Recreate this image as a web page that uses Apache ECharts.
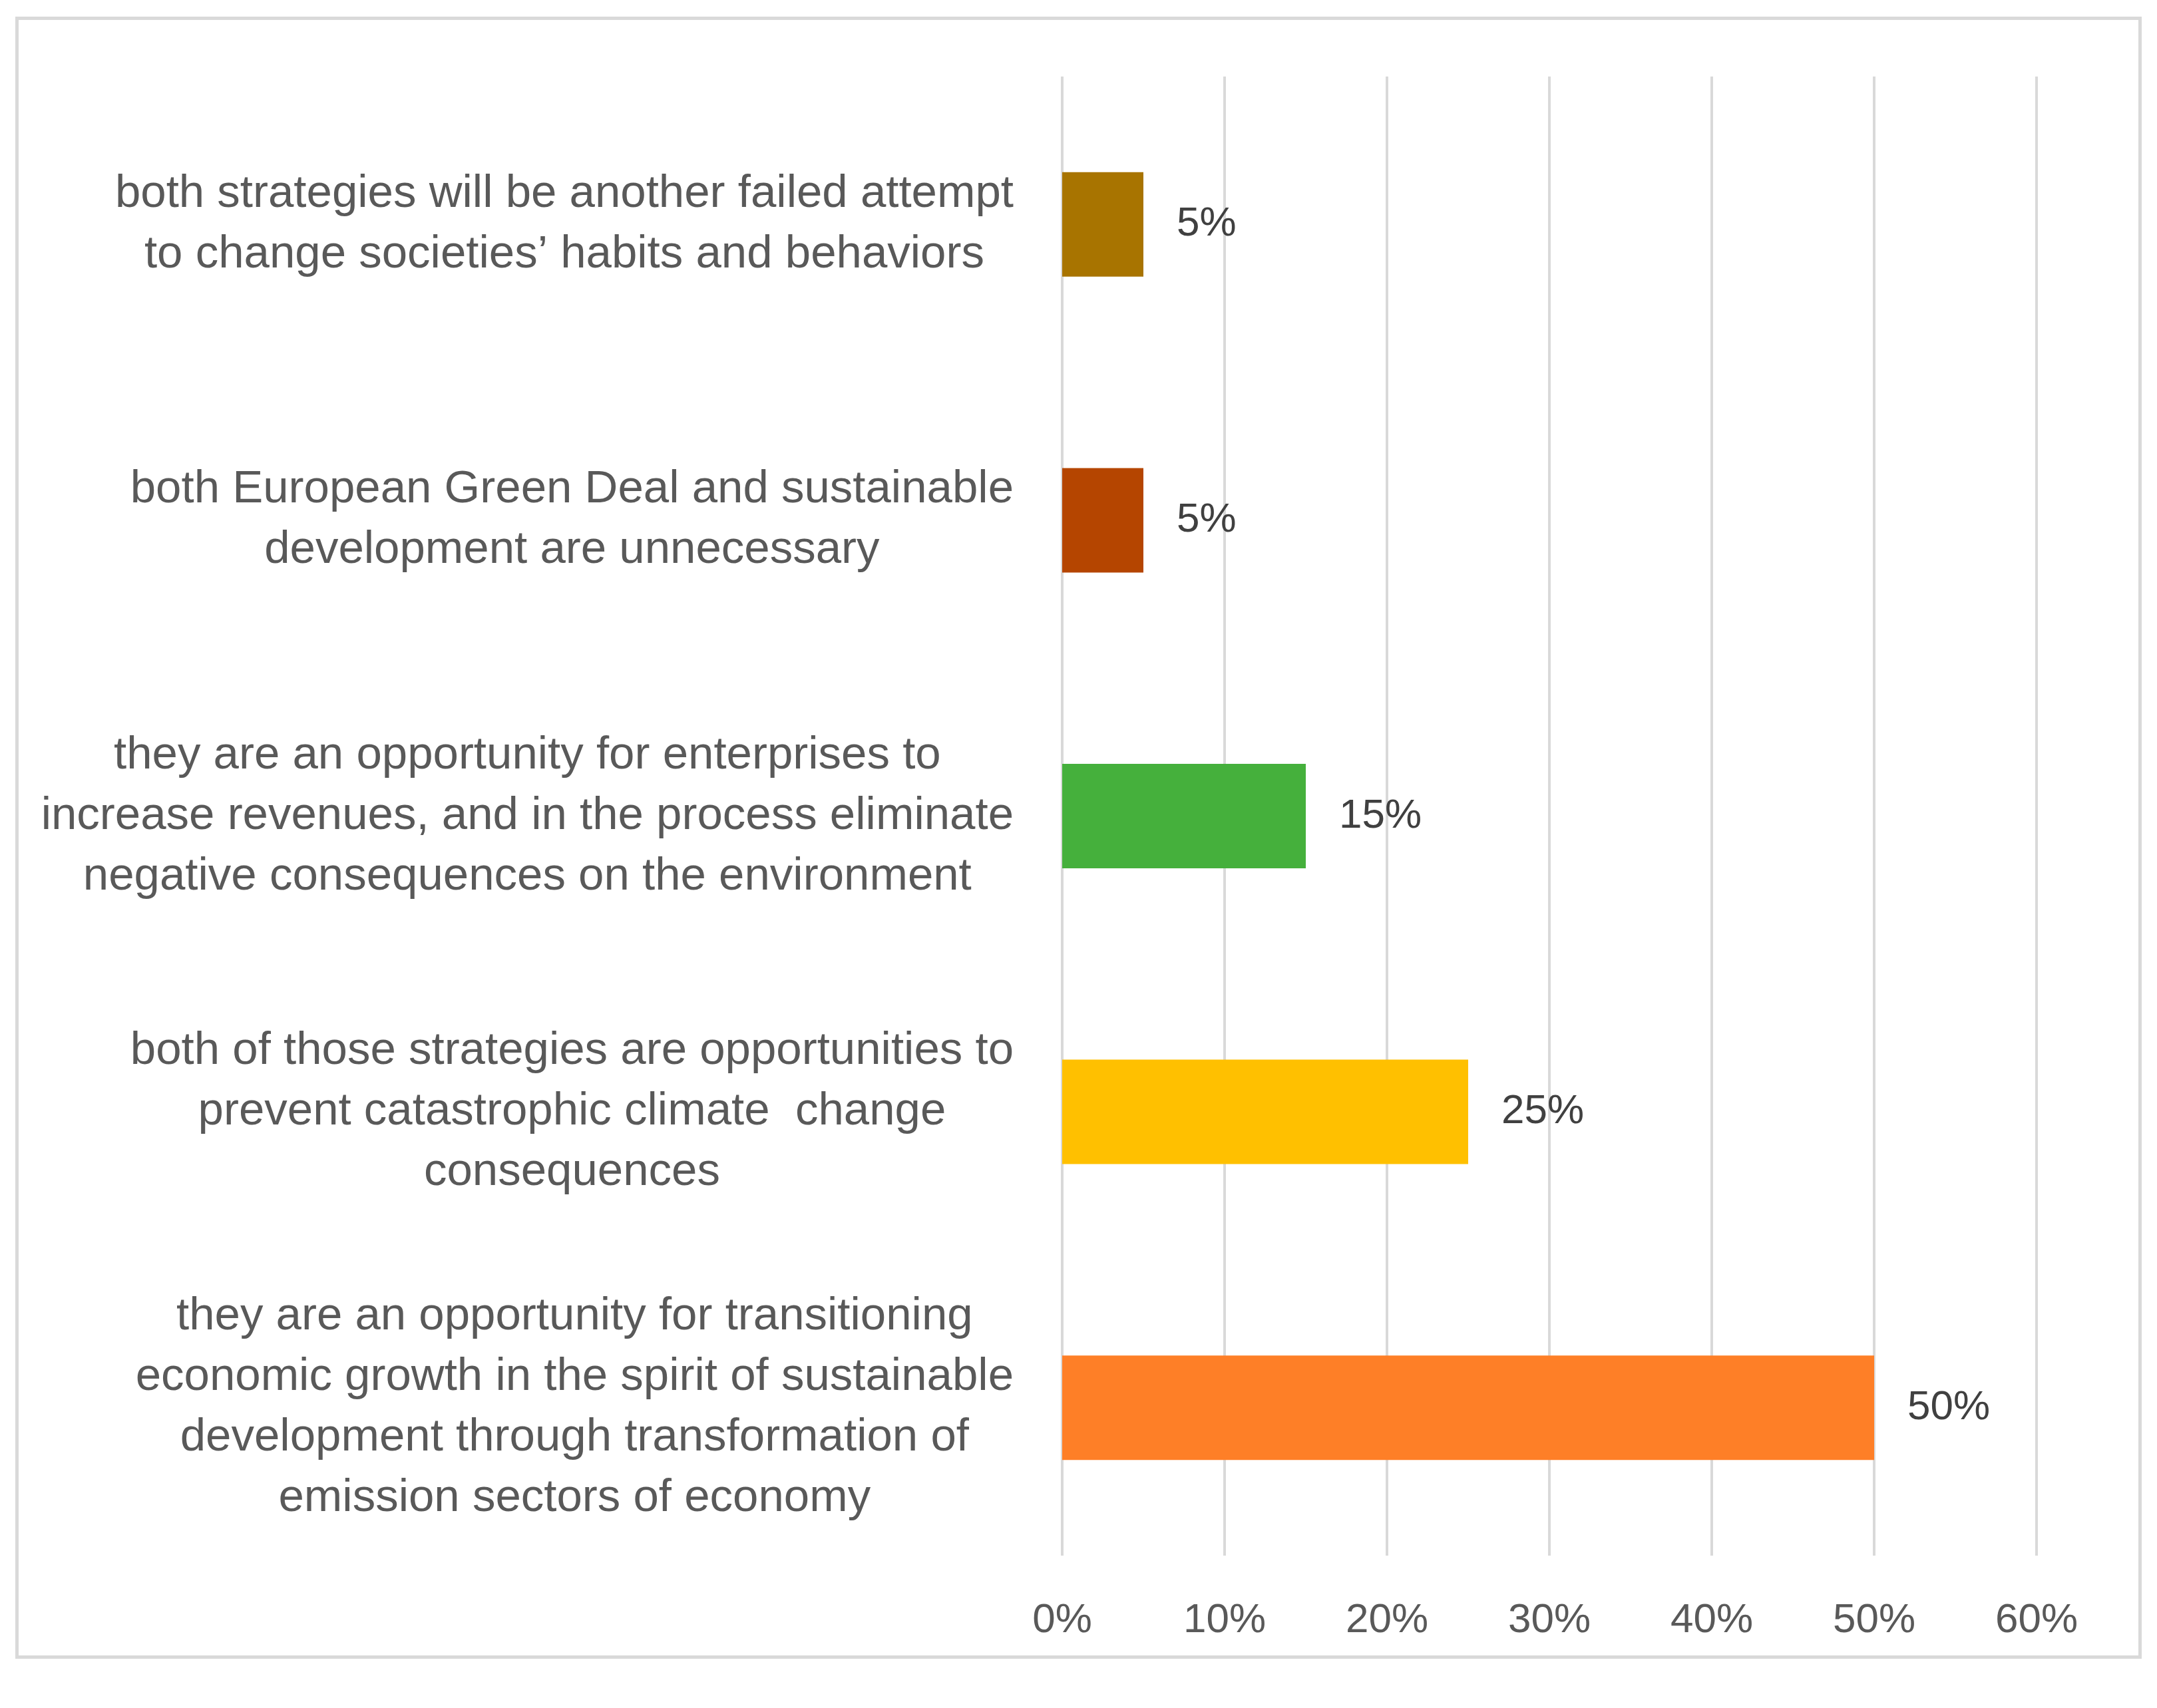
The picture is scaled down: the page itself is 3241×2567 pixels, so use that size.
<!DOCTYPE html>
<html>
<head>
<meta charset="utf-8">
<script src="https://cdn.jsdelivr.net/npm/echarts@6/dist/echarts.min.js"></script>
<style>
html,body{margin:0;padding:0;background:#fff;}
#chart{width:3241px;height:2567px;}
</style>
</head>
<body>
<div id="chart"></div>
<script>
var categories = [
  "both strategies will be another failed attempt\nto change societies\u2019 habits and behaviors",
  "both European Green Deal and sustainable\ndevelopment are unnecessary",
  "they are an opportunity for enterprises to\nincrease revenues, and in the process eliminate\nnegative consequences on the environment",
  "both of those strategies are opportunities to\nprevent catastrophic climate  change\nconsequences",
  "they are an opportunity for transitioning\neconomic growth in the spirit of sustainable\ndevelopment through transformation of\nemission sectors of economy"
];
var values = [5, 5, 15, 25, 50];
var barColors = ["#A87400", "#B54500", "#45B03C", "#FFC000", "#FE7F27"];
var xTicks = [0, 10, 20, 30, 40, 50, 60];

var FONT = "'Liberation Sans', Arial, sans-serif";
var chart = echarts.init(document.getElementById('chart'), null, {renderer: 'canvas', devicePixelRatio: 1});

var option = {
  animation: false,
  backgroundColor: '#ffffff',
  graphic: [{
    type: 'rect',
    shape: {x: 25.5, y: 27.5, width: 3190, height: 2463},
    style: {fill: 'none', stroke: '#d9d9d9', lineWidth: 5},
    silent: true,
    z: -1
  }],
  grid: {left: 1596, top: 115, width: 1464, height: 2223, containLabel: false},
  xAxis: {
    type: 'value',
    min: xTicks[0],
    max: xTicks[xTicks.length - 1],
    interval: xTicks[1] - xTicks[0],
    axisLine: {show: false},
    axisTick: {show: false},
    splitLine: {show: true, lineStyle: {color: '#d9d9d9', width: 4}},
    axisLabel: {
      formatter: '{value}%',
      color: '#595959',
      fontSize: 62,
      fontFamily: FONT,
      margin: 67
    }
  },
  yAxis: {
    type: 'category',
    inverse: true,
    data: categories,
    axisLine: {show: false},
    axisTick: {show: false},
    splitLine: {show: false},
    axisLabel: {
      interval: 0,
      align: 'right',
      margin: 73,
      formatter: function (v) {
        return v.split('\n').map(function (l) { return '{c|' + l + '}'; }).join('\n');
      },
      rich: {
        c: {align: 'center', fontSize: 69, lineHeight: 91, color: '#595959', fontFamily: FONT}
      }
    }
  },
  series: [{
    type: 'bar',
    data: values.map(function (v, i) { return {value: v, itemStyle: {color: barColors[i]}}; }),
    barWidth: 157,
    label: {
      show: true,
      position: 'right',
      distance: 50,
      formatter: '{c}%',
      color: '#404040',
      fontSize: 62,
      fontFamily: FONT
    }
  }]
};
chart.setOption(option);
</script>
</body>
</html>
